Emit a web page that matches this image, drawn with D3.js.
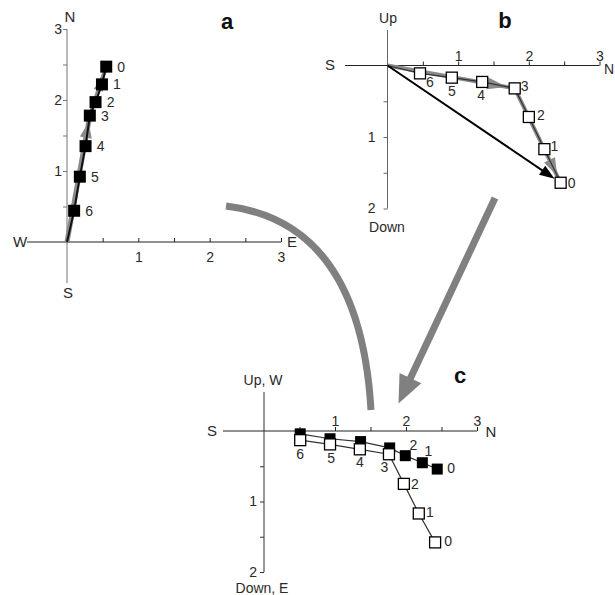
<!DOCTYPE html>
<html><head><meta charset="utf-8">
<script src="https://cdn.jsdelivr.net/npm/d3@7"></script>
<style>body{margin:0;background:#fff}svg{display:block;font-family:"Liberation Sans",Arial,sans-serif}</style>
</head><body><svg id="chart" width="615" height="595"></svg>
<script>
// ---------- DATA ----------
const steps = ["0", "1", "2", "3", "4", "5", "6"];
// panel a: horizontal projection (East, North)
const aEast  = [0.55, 0.49, 0.40, 0.32, 0.26, 0.18, 0.10];
const aNorth = [2.47, 2.22, 1.97, 1.78, 1.35, 0.92, 0.44];
// panel b: vertical projection (North, Down)
const bNorth = [2.45, 2.22, 2.00, 1.80, 1.34, 0.91, 0.46];
const bDown  = [1.64, 1.17, 0.72, 0.32, 0.23, 0.17, 0.11];
// panel c: orthogonal projection (filled = horizontal, open = vertical)
const cFilledNorth = [2.44, 2.23, 1.99, 1.77, 1.36, 0.93, 0.51];
const cFilledDown  = [0.54, 0.45, 0.35, 0.24, 0.15, 0.11, 0.04];
const cOpenNorth   = [2.41, 2.18, 1.97, 1.76, 1.35, 0.93, 0.51];
const cOpenDown    = [1.58, 1.17, 0.75, 0.33, 0.26, 0.19, 0.13];
const tickValues3 = [0.5, 1, 1.5, 2, 2.5, 3];
const tickValues2 = [0.5, 1, 1.5, 2];

// ---------- LAYOUT ----------
const svg = d3.select("#chart");
svg.append("rect").attr("width", 615).attr("height", 595).attr("fill", "#fff");
const fmt = d => Number.isInteger(d) ? d : "";
const TXT = "#2a2a2a";

const xA = d3.scaleLinear([0, 3], [67, 281]);
const yA = d3.scaleLinear([0, 3], [242, 29]);
const xB = d3.scaleLinear([0, 3], [387.5, 599.5]);
const yB = d3.scaleLinear([0, 2], [65.5, 208.5]);
const xC = d3.scaleLinear([0, 3], [264, 477]);
const yC = d3.scaleLinear([0, 2], [431, 572]);

function styleAxis(g, color) {
  g.select(".domain").remove();
  g.selectAll(".tick line").attr("stroke", color).attr("stroke-width", 1);
  g.selectAll(".tick text").attr("fill", TXT).attr("font-size", 14)
    .attr("font-family", "Liberation Sans, Arial, sans-serif");
}
function line(x1, y1, x2, y2, color, w) {
  svg.append("line").attr("x1", x1).attr("y1", y1).attr("x2", x2).attr("y2", y2)
    .attr("stroke", color).attr("stroke-width", w || 1);
}
function label(x, y, t, size, opts) {
  opts = opts || {};
  svg.append("text").attr("x", x).attr("y", y).attr("dy", "0.35em")
    .attr("text-anchor", opts.anchor || "middle")
    .attr("font-size", size).attr("font-weight", opts.bold ? "bold" : "normal")
    .attr("fill", opts.fill || TXT).text(t);
}
function headPts(tip, from, len, hw) {
  const dx = tip[0] - from[0], dy = tip[1] - from[1];
  const L = Math.hypot(dx, dy), ux = dx / L, uy = dy / L;
  const bx = tip[0] - ux * len, by = tip[1] - uy * len;
  return [[tip[0], tip[1]], [bx - uy * hw, by + ux * hw], [bx + uy * hw, by - ux * hw]];
}
function head(tip, from, len, hw, color) {
  svg.append("path").attr("d", d3.line()(headPts(tip, from, len, hw)) + "Z").attr("fill", color);
}
const lerp = (p, q, t) => [p[0] + (q[0] - p[0]) * t, p[1] + (q[1] - p[1]) * t];

// ---------- connecting arrows ----------
const BIG = "#808080";
svg.append("path").attr("d", "M226,206 Q360,222 371,410")
  .attr("fill", "none").attr("stroke", BIG).attr("stroke-width", 7);
{
  const s = [495, 198], tip = [398.5, 403.5];
  const hp = headPts(tip, s, 28, 12);
  const base = lerp(tip, s, 26 / Math.hypot(tip[0] - s[0], tip[1] - s[1]));
  line(s[0], s[1], base[0], base[1], BIG, 7);
  svg.append("path").attr("d", d3.line()(hp) + "Z").attr("fill", BIG);
}

// ---------- PANEL A ----------
{
  const gx = svg.append("g").attr("transform", `translate(0,${yA(0)})`)
    .call(d3.axisBottom(xA).tickValues(tickValues3).tickSize(-4).tickPadding(10).tickFormat(fmt));
  styleAxis(gx, "#222");
  const gy = svg.append("g").attr("transform", `translate(${xA(0)},0)`)
    .call(d3.axisLeft(yA).tickValues(tickValues3).tickSize(4).tickPadding(1).tickFormat(fmt));
  styleAxis(gy, "#777");
  line(27, yA(0), xA(3), yA(0), "#222");
  line(xA(0), yA(3), xA(0), 283, "#777");
  label(20, yA(0), "W", 15);
  label(292, yA(0), "E", 15);
  label(70, 17, "N", 15);
  label(68, 293, "S", 15);
  label(227, 21, "a", 22, {bold: true, fill: "#111"});

  const pts = steps.map((s, i) => [xA(aEast[i]), yA(aNorth[i])]);
  const O = [xA(0), yA(0)];
  const G = "#8a8a8a";
  line(O[0], O[1], pts[3][0], pts[3][1], G, 5);
  head(lerp(O, pts[3], 0.95), O, 16, 6, G);
  line(pts[3][0], pts[3][1], pts[0][0], pts[0][1], G, 4);
  head(lerp(pts[3], pts[0], 0.75), pts[3], 12, 5, G);
  const path = [O].concat(pts.slice().reverse());
  svg.append("path").attr("d", d3.line()(path)).attr("fill", "none")
    .attr("stroke", "#111").attr("stroke-width", 2);
  svg.selectAll(".sqa").data(pts).join("rect")
    .attr("x", d => d[0] - 6).attr("y", d => d[1] - 6)
    .attr("width", 12).attr("height", 12).attr("fill", "#000");
  pts.forEach((p, i) => label(p[0] + 15, p[1], steps[i], 14));
}

// ---------- PANEL B ----------
{
  const gx = svg.append("g").attr("transform", `translate(0,${yB(0)})`)
    .call(d3.axisTop(xB).tickValues(tickValues3).tickSize(4).tickPadding(1).tickFormat(fmt));
  styleAxis(gx, "#222");
  const gy = svg.append("g").attr("transform", `translate(${xB(0)},0)`)
    .call(d3.axisLeft(yB).tickValues(tickValues2).tickSize(4).tickPadding(8).tickFormat(fmt));
  styleAxis(gy, "#666");
  line(345, yB(0), xB(3), yB(0), "#222");
  line(xB(0), 30, xB(0), yB(2), "#666");
  label(330, 65, "S", 15);
  label(604, 69, "N", 14, {anchor: "start"});
  label(388, 18, "Up", 14);
  label(387, 227, "Down", 14);
  label(505, 20, "b", 22, {bold: true, fill: "#111"});

  const pts = steps.map((s, i) => [xB(bNorth[i]), yB(bDown[i])]);
  const O = [xB(0), yB(0)];
  const G = "#8a8a8a";
  line(O[0], O[1], pts[3][0], pts[3][1], G, 4);
  head(lerp(O, pts[3], 0.94), O, 20, 6, G);
  line(pts[3][0], pts[3][1], pts[0][0], pts[0][1], G, 4);
  head(lerp(pts[3], pts[0], 0.93), pts[3], 18, 6, G);
  const path = [O].concat(pts.slice().reverse());
  svg.append("path").attr("d", d3.line()(path)).attr("fill", "none")
    .attr("stroke", "#333").attr("stroke-width", 1.2);
  const tip = lerp(O, pts[0], 0.965);
  const base = lerp(O, pts[0], 0.965 - 14 / Math.hypot(pts[0][0] - O[0], pts[0][1] - O[1]));
  line(O[0], O[1], base[0], base[1], "#000", 2);
  head(tip, O, 15, 5.5, "#000");
  svg.selectAll(".sqb").data(pts).join("rect")
    .attr("x", d => d[0] - 5.5).attr("y", d => d[1] - 5.5)
    .attr("width", 11).attr("height", 11).attr("fill", "#fff")
    .attr("stroke", "#000").attr("stroke-width", 1.3);
  const off = [[11, 0], [10, -3], [12, -1.5], [10, -2], [-1, 13], [0, 13], [10, 9]];
  pts.forEach((p, i) => label(p[0] + off[i][0], p[1] + off[i][1], steps[i], 14));
}

// ---------- PANEL C ----------
{
  const gx = svg.append("g").attr("transform", `translate(0,${yC(0)})`)
    .call(d3.axisTop(xC).tickValues(tickValues3).tickSize(4).tickPadding(1).tickFormat(fmt));
  styleAxis(gx, "#222");
  const gy = svg.append("g").attr("transform", `translate(${xC(0)},0)`)
    .call(d3.axisLeft(yC).tickValues(tickValues2).tickSize(4).tickPadding(3).tickFormat(fmt));
  styleAxis(gy, "#333");
  line(223, yC(0), xC(3), yC(0), "#222");
  line(xC(0), 392, xC(0), yC(2), "#333");
  label(212, 431, "S", 15);
  label(491, 432, "N", 15);
  label(263, 380, "Up, W", 14);
  label(262, 588, "Down, E", 14);
  label(460, 375, "c", 22, {bold: true, fill: "#111"});

  const fp = steps.map((s, i) => [xC(cFilledNorth[i]), yC(cFilledDown[i])]);
  const op = steps.map((s, i) => [xC(cOpenNorth[i]), yC(cOpenDown[i])]);
  [fp, op].forEach(pts => {
    svg.append("path").attr("d", d3.line()(pts)).attr("fill", "none")
      .attr("stroke", "#333").attr("stroke-width", 1.2);
  });
  svg.selectAll(".sqcf").data(fp).join("rect")
    .attr("x", d => d[0] - 5.5).attr("y", d => d[1] - 5.5)
    .attr("width", 11).attr("height", 11).attr("fill", "#000");
  svg.selectAll(".sqco").data(op).join("rect")
    .attr("x", d => d[0] - 5.5).attr("y", d => d[1] - 5.5)
    .attr("width", 11).attr("height", 11).attr("fill", "#fff")
    .attr("stroke", "#000").attr("stroke-width", 1.3);
  const offF = [[14, -1], [6, -12], [8, -11]];
  [0, 1, 2].forEach(i => label(fp[i][0] + offF[i][0], fp[i][1] + offF[i][1], steps[i], 14));
  const offO = [[13, -1.5], [11, -1.5], [11, 0], [-4.5, 13], [0, 13], [1, 13.5], [0, 13.5]];
  op.forEach((p, i) => label(p[0] + offO[i][0], p[1] + offO[i][1], steps[i], 14));
}
</script></body></html>
